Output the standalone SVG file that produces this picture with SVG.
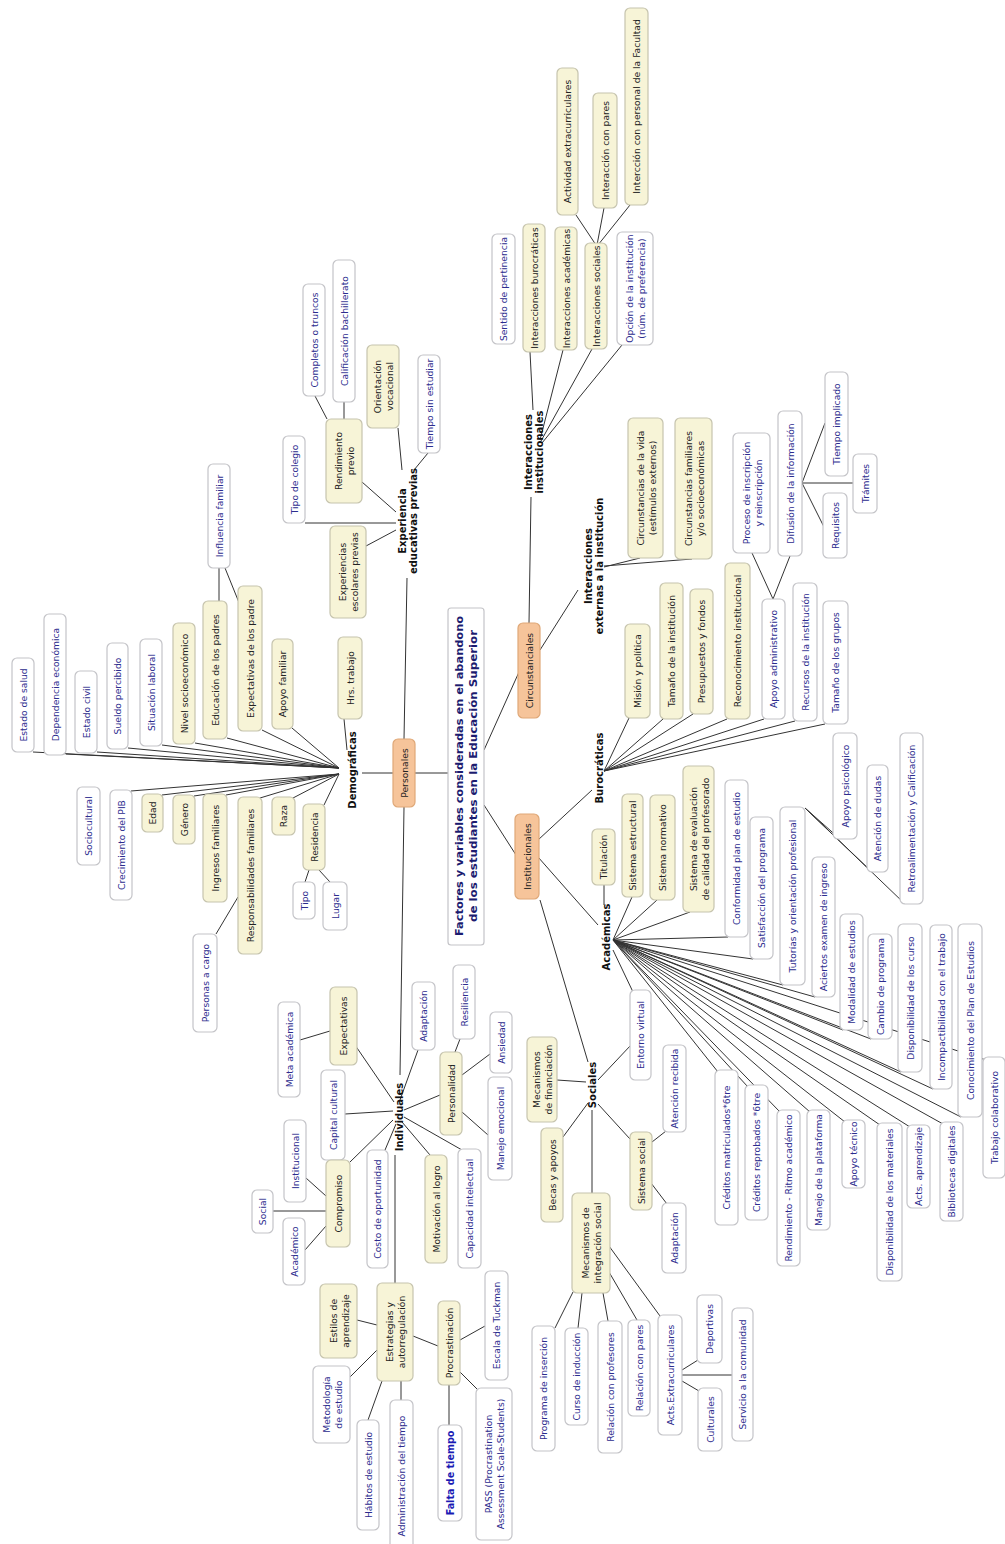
<svg xmlns="http://www.w3.org/2000/svg" width="1005" height="1544" viewBox="0 0 1005 1544">
<style>
.y{fill:#f7f4d7;stroke:#c6c4ae;stroke-width:1.2}
.w{fill:#ffffff;stroke:#c4c4c8;stroke-width:1.2}
.o{fill:#f6c49a;stroke:#dfa878;stroke-width:1.2}
text{font-family:"DejaVu Sans",Verdana,sans-serif;font-size:9.2px;text-anchor:middle;dominant-baseline:central}
.tk{fill:#222}
.tb{fill:#2c2c8e}
.lb{font-weight:bold;font-size:10px;fill:#111}
.ttl{font-weight:bold;font-size:11px;fill:#1c1c70}
.ft{font-weight:bold;font-size:9.6px;fill:#1a1ab4}
#edges line{stroke:#333;stroke-width:1}
</style>
<rect width="1005" height="1544" fill="#fff"/>
<g id="edges">
<line x1="315" y1="396" x2="327" y2="419"/>
<line x1="344" y1="402" x2="344" y2="419"/>
<line x1="362" y1="482" x2="396" y2="512"/>
<line x1="305" y1="523" x2="396" y2="523"/>
<line x1="366" y1="546" x2="396" y2="530"/>
<line x1="398" y1="428" x2="402" y2="470"/>
<line x1="428" y1="453" x2="414" y2="470"/>
<line x1="407" y1="578" x2="404" y2="739"/>
<line x1="393" y1="773" x2="362" y2="773"/>
<line x1="415" y1="773" x2="448" y2="773"/>
<line x1="404" y1="807" x2="400" y2="1075"/>
<line x1="344" y1="719" x2="347" y2="750"/>
<line x1="33" y1="752" x2="339" y2="768"/>
<line x1="66" y1="754" x2="339" y2="768"/>
<line x1="97" y1="752" x2="339" y2="768"/>
<line x1="128" y1="748" x2="339" y2="768"/>
<line x1="162" y1="745" x2="339" y2="768"/>
<line x1="195" y1="743" x2="339" y2="768"/>
<line x1="227" y1="738" x2="339" y2="768"/>
<line x1="262" y1="730" x2="339" y2="768"/>
<line x1="292" y1="728" x2="339" y2="768"/>
<line x1="131" y1="791" x2="339" y2="774"/>
<line x1="162" y1="795" x2="339" y2="774"/>
<line x1="194" y1="796" x2="339" y2="774"/>
<line x1="226" y1="795" x2="339" y2="774"/>
<line x1="260" y1="798" x2="339" y2="774"/>
<line x1="293" y1="798" x2="339" y2="774"/>
<line x1="324" y1="805" x2="339" y2="774"/>
<line x1="219" y1="568" x2="219" y2="601"/>
<line x1="225" y1="568" x2="240" y2="605"/>
<line x1="238" y1="897" x2="216" y2="934"/>
<line x1="309" y1="870" x2="305" y2="882"/>
<line x1="319" y1="870" x2="330" y2="882"/>
<line x1="300" y1="1040" x2="330" y2="1031"/>
<line x1="355" y1="1045" x2="394" y2="1102"/>
<line x1="418" y1="1050" x2="400" y2="1100"/>
<line x1="460" y1="1039" x2="455" y2="1052"/>
<line x1="440" y1="1095" x2="404" y2="1110"/>
<line x1="490" y1="1054" x2="462" y2="1075"/>
<line x1="462" y1="1112" x2="488" y2="1135"/>
<line x1="345" y1="1114" x2="393" y2="1111"/>
<line x1="306" y1="1178" x2="326" y2="1196"/>
<line x1="273" y1="1211" x2="326" y2="1211"/>
<line x1="305" y1="1250" x2="326" y2="1226"/>
<line x1="350" y1="1162" x2="393" y2="1120"/>
<line x1="385" y1="1150" x2="396" y2="1124"/>
<line x1="430" y1="1155" x2="402" y2="1122"/>
<line x1="462" y1="1150" x2="404" y2="1117"/>
<line x1="395" y1="1155" x2="395" y2="1283"/>
<line x1="357" y1="1320" x2="377" y2="1325"/>
<line x1="349" y1="1378" x2="377" y2="1350"/>
<line x1="368" y1="1420" x2="382" y2="1381"/>
<line x1="401" y1="1381" x2="401" y2="1400"/>
<line x1="413" y1="1336" x2="438" y2="1346"/>
<line x1="449" y1="1385" x2="449" y2="1425"/>
<line x1="460" y1="1340" x2="485" y2="1326"/>
<line x1="460" y1="1372" x2="477" y2="1389"/>
<line x1="484" y1="805" x2="516" y2="855"/>
<line x1="484" y1="750" x2="519" y2="672"/>
<line x1="529" y1="623" x2="531" y2="497"/>
<line x1="540" y1="650" x2="578" y2="590"/>
<line x1="530" y1="352" x2="533" y2="410"/>
<line x1="563" y1="350" x2="540" y2="440"/>
<line x1="592" y1="349" x2="541" y2="441"/>
<line x1="622" y1="345" x2="542" y2="443"/>
<line x1="576" y1="215" x2="596" y2="245"/>
<line x1="604" y1="208" x2="597" y2="245"/>
<line x1="630" y1="205" x2="598" y2="245"/>
<line x1="604" y1="567" x2="640" y2="558"/>
<line x1="604" y1="566" x2="692" y2="559"/>
<line x1="538" y1="840" x2="592" y2="790"/>
<line x1="604" y1="771" x2="629" y2="718"/>
<line x1="604" y1="771" x2="663" y2="719"/>
<line x1="604" y1="771" x2="693" y2="714"/>
<line x1="604" y1="771" x2="727" y2="719"/>
<line x1="604" y1="771" x2="764" y2="719"/>
<line x1="604" y1="771" x2="795" y2="721"/>
<line x1="604" y1="771" x2="825" y2="724"/>
<line x1="773" y1="599" x2="752" y2="553"/>
<line x1="773" y1="599" x2="790" y2="556"/>
<line x1="802" y1="483" x2="824" y2="527"/>
<line x1="802" y1="483" x2="853" y2="483"/>
<line x1="802" y1="483" x2="825" y2="423"/>
<line x1="538" y1="857" x2="598" y2="925"/>
<line x1="604" y1="885" x2="604" y2="905"/>
<line x1="613" y1="940" x2="632" y2="897"/>
<line x1="613" y1="940" x2="657" y2="900"/>
<line x1="613" y1="940" x2="690" y2="912"/>
<line x1="613" y1="940" x2="728" y2="937"/>
<line x1="613" y1="940" x2="753" y2="959"/>
<line x1="613" y1="940" x2="783" y2="985"/>
<line x1="613" y1="940" x2="815" y2="997"/>
<line x1="613" y1="940" x2="843" y2="1030"/>
<line x1="613" y1="940" x2="871" y2="1039"/>
<line x1="613" y1="940" x2="901" y2="1072"/>
<line x1="613" y1="940" x2="933" y2="1089"/>
<line x1="613" y1="940" x2="961" y2="1117"/>
<line x1="613" y1="940" x2="986" y2="1060"/>
<line x1="613" y1="940" x2="943" y2="1124"/>
<line x1="613" y1="940" x2="910" y2="1127"/>
<line x1="613" y1="940" x2="880" y2="1125"/>
<line x1="613" y1="940" x2="845" y2="1122"/>
<line x1="613" y1="940" x2="810" y2="1112"/>
<line x1="613" y1="940" x2="780" y2="1112"/>
<line x1="613" y1="940" x2="748" y2="1087"/>
<line x1="613" y1="940" x2="718" y2="1072"/>
<line x1="633" y1="992" x2="613" y2="950"/>
<line x1="631" y1="1045" x2="598" y2="1080"/>
<line x1="805" y1="808" x2="840" y2="839"/>
<line x1="805" y1="808" x2="872" y2="872"/>
<line x1="805" y1="808" x2="905" y2="904"/>
<line x1="540" y1="900" x2="588" y2="1062"/>
<line x1="557" y1="1080" x2="586" y2="1082"/>
<line x1="563" y1="1137" x2="588" y2="1103"/>
<line x1="592" y1="1110" x2="592" y2="1193"/>
<line x1="598" y1="1104" x2="630" y2="1139"/>
<line x1="652" y1="1142" x2="666" y2="1131"/>
<line x1="651" y1="1183" x2="667" y2="1204"/>
<line x1="555" y1="1328" x2="573" y2="1292"/>
<line x1="578" y1="1328" x2="582" y2="1293"/>
<line x1="608" y1="1321" x2="603" y2="1293"/>
<line x1="637" y1="1320" x2="609" y2="1272"/>
<line x1="660" y1="1316" x2="609" y2="1246"/>
<line x1="682" y1="1370" x2="698" y2="1360"/>
<line x1="682" y1="1375" x2="732" y2="1375"/>
<line x1="682" y1="1381" x2="699" y2="1391"/>
</g>

<g id="title"><rect class="w" x="448" y="608" width="36" height="337" rx="3"/>
<text class="ttl" transform="rotate(-90 459 776)" x="459" y="776" textLength="320" lengthAdjust="spacingAndGlyphs">Factores y variables consideradas en el abandono</text>
<text class="ttl" transform="rotate(-90 473 776)" x="473" y="776" textLength="292" lengthAdjust="spacingAndGlyphs">de los estudiantes en la Educación Superior</text></g>

<g id="personales"><rect class="o" x="393" y="739" width="22" height="68" rx="5"/><text class="tk" transform="rotate(-90 404 773)" x="404" y="773">Personales</text></g>
<g id="institucionales"><rect class="o" x="515" y="814" width="24" height="85" rx="5"/><text class="tk" transform="rotate(-90 527 856.5)" x="527" y="856.5">Institucionales</text></g>
<g id="circunstanciales"><rect class="o" x="518" y="623" width="22" height="95" rx="5"/><text class="tk" transform="rotate(-90 529 670.5)" x="529" y="670.5">Circunstanciales</text></g>

<g id="lbl-experiencia"><text class="lb" transform="rotate(-90 407 521)" x="407" y="521"><tspan x="407" dy="-5.5">Experiencia</tspan><tspan x="407" dy="11">educativas previas</tspan></text></g>
<g id="lbl-demograficas"><text class="lb" transform="rotate(-90 352 770)" x="352" y="770">Demográficas</text></g>
<g id="lbl-individuales"><text class="lb" transform="rotate(-90 399 1117)" x="399" y="1117">Individuales</text></g>
<g id="lbl-intinst"><text class="lb" transform="rotate(-90 533 452)" x="533" y="452"><tspan x="533" dy="-5.5">Interacciones</tspan><tspan x="533" dy="11">institucionales</tspan></text></g>
<g id="lbl-intext"><text class="lb" transform="rotate(-90 593 566)" x="593" y="566"><tspan x="593" dy="-5.5">Interacciones</tspan><tspan x="593" dy="11">externas a la institución</tspan></text></g>
<g id="lbl-burocraticas"><text class="lb" transform="rotate(-90 599 768)" x="599" y="768">Burocráticas</text></g>
<g id="lbl-academicas"><text class="lb" transform="rotate(-90 606 937)" x="606" y="937">Académicas</text></g>
<g id="lbl-sociales"><text class="lb" transform="rotate(-90 592 1085)" x="592" y="1085">Sociales</text></g>

<g id="completos"><rect class="w" x="303" y="284" width="22" height="112" rx="5"/><text class="tb" transform="rotate(-90 314 340)" x="314" y="340">Completos o truncos</text></g>
<g id="calificacion"><rect class="w" x="333" y="260" width="22" height="142" rx="5"/><text class="tb" transform="rotate(-90 344 331)" x="344" y="331">Calificación bachillerato</text></g>
<g id="rendimiento"><rect class="y" x="326" y="419" width="36" height="84" rx="5"/><text class="tk" transform="rotate(-90 344 461)" x="344" y="461"><tspan x="344" dy="-6">Rendimiento</tspan><tspan x="344" dy="12">previo</tspan></text></g>
<g id="orientacion"><rect class="y" x="367" y="345" width="32" height="83" rx="5"/><text class="tk" transform="rotate(-90 383 386.5)" x="383" y="386.5"><tspan x="383" dy="-6">Orientación</tspan><tspan x="383" dy="12">vocacional</tspan></text></g>
<g id="tiemposin"><rect class="w" x="418" y="355" width="22" height="98" rx="5"/><text class="tb" transform="rotate(-90 429 404)" x="429" y="404">Tiempo sin estudiar</text></g>
<g id="tipocolegio"><rect class="w" x="283" y="436" width="22" height="87" rx="5"/><text class="tb" transform="rotate(-90 294 479.5)" x="294" y="479.5">Tipo de colegio</text></g>
<g id="experiencias"><rect class="y" x="330" y="526" width="36" height="92" rx="5"/><text class="tk" transform="rotate(-90 348 572)" x="348" y="572"><tspan x="348" dy="-6">Experiencias</tspan><tspan x="348" dy="12">escolares previas</tspan></text></g>

<g id="hrstrabajo"><rect class="y" x="338" y="637" width="24" height="82" rx="5"/><text class="tk" transform="rotate(-90 350 678)" x="350" y="678">Hrs. trabajo</text></g>
<g id="estadosalud"><rect class="w" x="12" y="658" width="22" height="94" rx="5"/><text class="tb" transform="rotate(-90 23 705)" x="23" y="705">Estado de salud</text></g>
<g id="dependencia"><rect class="w" x="44" y="614" width="22" height="141" rx="5"/><text class="tb" transform="rotate(-90 55 684.5)" x="55" y="684.5">Dependencia económica</text></g>
<g id="estadocivil"><rect class="w" x="75" y="671" width="22" height="82" rx="5"/><text class="tb" transform="rotate(-90 86 712)" x="86" y="712">Estado civil</text></g>
<g id="sueldo"><rect class="w" x="107" y="643" width="21" height="106" rx="5"/><text class="tb" transform="rotate(-90 117.5 696)" x="117.5" y="696">Sueldo percibido</text></g>
<g id="situacion"><rect class="w" x="140" y="639" width="22" height="107" rx="5"/><text class="tb" transform="rotate(-90 151 692.5)" x="151" y="692.5">Situación laboral</text></g>
<g id="nivel"><rect class="y" x="173" y="623" width="22" height="121" rx="5"/><text class="tk" transform="rotate(-90 184 683.5)" x="184" y="683.5">Nivel socioeconómico</text></g>
<g id="educacion"><rect class="y" x="203" y="601" width="24" height="138" rx="5"/><text class="tk" transform="rotate(-90 215 670)" x="215" y="670">Educación de los padres</text></g>
<g id="expectpadre"><rect class="y" x="238" y="586" width="24" height="145" rx="5"/><text class="tk" transform="rotate(-90 250 658.5)" x="250" y="658.5">Expectativas de los padre</text></g>
<g id="influencia"><rect class="w" x="208" y="464" width="22" height="104" rx="5"/><text class="tb" transform="rotate(-90 219 516)" x="219" y="516">Influencia familiar</text></g>
<g id="apoyofamiliar"><rect class="y" x="272" y="639" width="21" height="90" rx="5"/><text class="tk" transform="rotate(-90 282.5 684)" x="282.5" y="684">Apoyo familiar</text></g>
<g id="sociocultural"><rect class="w" x="77" y="787" width="23" height="78" rx="5"/><text class="tb" transform="rotate(-90 88.5 826)" x="88.5" y="826">Sociocultural</text></g>
<g id="crecimiento"><rect class="w" x="110" y="790" width="22" height="110" rx="5"/><text class="tb" transform="rotate(-90 121 845)" x="121" y="845">Crecimiento del PIB</text></g>
<g id="edad"><rect class="y" x="142" y="794" width="21" height="38" rx="5"/><text class="tk" transform="rotate(-90 152.5 813)" x="152.5" y="813">Edad</text></g>
<g id="genero"><rect class="y" x="173" y="795" width="22" height="49" rx="5"/><text class="tk" transform="rotate(-90 184 819.5)" x="184" y="819.5">Género</text></g>
<g id="ingresos"><rect class="y" x="203" y="794" width="24" height="108" rx="5"/><text class="tk" transform="rotate(-90 215 848)" x="215" y="848">Ingresos familiares</text></g>
<g id="responsabilidades"><rect class="y" x="238" y="797" width="24" height="157" rx="5"/><text class="tk" transform="rotate(-90 250 875.5)" x="250" y="875.5">Responsabilidades familiares</text></g>
<g id="personas"><rect class="w" x="193" y="934" width="24" height="98" rx="5"/><text class="tb" transform="rotate(-90 205 983)" x="205" y="983">Personas a cargo</text></g>
<g id="raza"><rect class="y" x="272" y="797" width="23" height="38" rx="5"/><text class="tk" transform="rotate(-90 283.5 816)" x="283.5" y="816">Raza</text></g>
<g id="residencia"><rect class="y" x="303" y="804" width="22" height="66" rx="5"/><text class="tk" transform="rotate(-90 314 837)" x="314" y="837">Residencia</text></g>
<g id="tipo"><rect class="w" x="293" y="882" width="22" height="37" rx="5"/><text class="tb" transform="rotate(-90 304 900.5)" x="304" y="900.5">Tipo</text></g>
<g id="lugar"><rect class="w" x="323" y="882" width="24" height="48" rx="5"/><text class="tb" transform="rotate(-90 335 906)" x="335" y="906">Lugar</text></g>

<g id="metaacademica"><rect class="w" x="278" y="1002" width="22" height="95" rx="5"/><text class="tb" transform="rotate(-90 289 1049.5)" x="289" y="1049.5">Meta académica</text></g>
<g id="expectativas"><rect class="y" x="330" y="987" width="27" height="78" rx="5"/><text class="tk" transform="rotate(-90 343.5 1026)" x="343.5" y="1026">Expectativas</text></g>
<g id="adaptacion1"><rect class="w" x="412" y="982" width="23" height="68" rx="5"/><text class="tb" transform="rotate(-90 423.5 1016)" x="423.5" y="1016">Adaptación</text></g>
<g id="resiliencia"><rect class="w" x="453" y="965" width="22" height="74" rx="5"/><text class="tb" transform="rotate(-90 464 1002)" x="464" y="1002">Resiliencia</text></g>
<g id="personalidad"><rect class="y" x="440" y="1052" width="22" height="83" rx="5"/><text class="tk" transform="rotate(-90 451 1093.5)" x="451" y="1093.5">Personalidad</text></g>
<g id="ansiedad"><rect class="w" x="490" y="1012" width="22" height="61" rx="5"/><text class="tb" transform="rotate(-90 501 1042.5)" x="501" y="1042.5">Ansiedad</text></g>
<g id="manejoemocional"><rect class="w" x="488" y="1077" width="24" height="103" rx="5"/><text class="tb" transform="rotate(-90 500 1128.5)" x="500" y="1128.5">Manejo emocional</text></g>
<g id="capitalcultural"><rect class="w" x="321" y="1070" width="24" height="90" rx="5"/><text class="tb" transform="rotate(-90 333 1115)" x="333" y="1115">Capital cultural</text></g>
<g id="institucional"><rect class="w" x="284" y="1120" width="22" height="82" rx="5"/><text class="tb" transform="rotate(-90 295 1161)" x="295" y="1161">Institucional</text></g>
<g id="social"><rect class="w" x="252" y="1190" width="21" height="43" rx="5"/><text class="tb" transform="rotate(-90 262.5 1211.5)" x="262.5" y="1211.5">Social</text></g>
<g id="academico"><rect class="w" x="283" y="1218" width="22" height="67" rx="5"/><text class="tb" transform="rotate(-90 294 1251.5)" x="294" y="1251.5">Académico</text></g>
<g id="compromiso"><rect class="y" x="326" y="1160" width="24" height="87" rx="5"/><text class="tk" transform="rotate(-90 338 1203.5)" x="338" y="1203.5">Compromiso</text></g>
<g id="costo"><rect class="w" x="367" y="1150" width="21" height="118" rx="5"/><text class="tb" transform="rotate(-90 377.5 1209)" x="377.5" y="1209">Costo de oportunidad</text></g>
<g id="motivacion"><rect class="y" x="425" y="1155" width="22" height="108" rx="5"/><text class="tk" transform="rotate(-90 436 1209)" x="436" y="1209">Motivación al logro</text></g>
<g id="capacidad"><rect class="w" x="458" y="1149" width="23" height="119" rx="5"/><text class="tb" transform="rotate(-90 469.5 1208.5)" x="469.5" y="1208.5">Capacidad intelectual</text></g>
<g id="estrategias"><rect class="y" x="377" y="1283" width="36" height="98" rx="5"/><text class="tk" transform="rotate(-90 395 1332)" x="395" y="1332"><tspan x="395" dy="-6">Estrategias y</tspan><tspan x="395" dy="12">autorregulación</tspan></text></g>
<g id="estilos"><rect class="y" x="320" y="1284" width="37" height="74" rx="5"/><text class="tk" transform="rotate(-90 338.5 1321)" x="338.5" y="1321"><tspan x="338.5" dy="-6">Estilos de</tspan><tspan x="338.5" dy="12">aprendizaje</tspan></text></g>
<g id="metodologia"><rect class="w" x="313" y="1366" width="37" height="77" rx="5"/><text class="tb" transform="rotate(-90 331.5 1404.5)" x="331.5" y="1404.5"><tspan x="331.5" dy="-6">Metodología</tspan><tspan x="331.5" dy="12">de estudio</tspan></text></g>
<g id="habitos"><rect class="w" x="357" y="1420" width="22" height="110" rx="5"/><text class="tb" transform="rotate(-90 368 1475)" x="368" y="1475">Hábitos de estudio</text></g>
<g id="administracion"><rect class="w" x="390" y="1400" width="23" height="152" rx="5"/><text class="tb" transform="rotate(-90 401.5 1476)" x="401.5" y="1476">Administración del tiempo</text></g>
<g id="procrastinacion"><rect class="y" x="438" y="1301" width="22" height="84" rx="5"/><text class="tk" transform="rotate(-90 449 1343)" x="449" y="1343">Procrastinación</text></g>
<g id="falta"><rect class="w" x="438" y="1425" width="24" height="96" rx="5"/><text class="ft" transform="rotate(-90 450 1473)" x="450" y="1473">Falta de tiempo</text></g>
<g id="escala"><rect class="w" x="485" y="1271" width="23" height="109" rx="5"/><text class="tb" transform="rotate(-90 496.5 1325.5)" x="496.5" y="1325.5">Escala de Tuckman</text></g>
<g id="pass"><rect class="w" x="476" y="1388" width="36" height="152" rx="5"/><text class="tb" transform="rotate(-90 494 1464)" x="494" y="1464"><tspan x="494" dy="-6">PASS (Procrastination</tspan><tspan x="494" dy="12">Assessment Scale-Students)</tspan></text></g>

<g id="sentido"><rect class="w" x="492" y="234" width="23" height="110" rx="5"/><text class="tb" transform="rotate(-90 503.5 289)" x="503.5" y="289">Sentido de pertinencia</text></g>
<g id="intburocraticas"><rect class="y" x="523" y="224" width="22" height="128" rx="5"/><text class="tk" transform="rotate(-90 534 288)" x="534" y="288">Interacciones burocráticas</text></g>
<g id="intacademicas"><rect class="y" x="555" y="227" width="22" height="123" rx="5"/><text class="tk" transform="rotate(-90 566 288.5)" x="566" y="288.5">Interacciones académicas</text></g>
<g id="intsociales"><rect class="y" x="585" y="243" width="22" height="106" rx="5"/><text class="tk" transform="rotate(-90 596 296)" x="596" y="296">Interacciones sociales</text></g>
<g id="opcion"><rect class="w" x="617" y="232" width="36" height="113" rx="5"/><text class="tb" transform="rotate(-90 635 288.5)" x="635" y="288.5"><tspan x="635" dy="-6">Opción de la institución</tspan><tspan x="635" dy="12">(núm. de preferencia)</tspan></text></g>
<g id="actividad"><rect class="y" x="557" y="68" width="21" height="147" rx="5"/><text class="tk" transform="rotate(-90 567.5 141.5)" x="567.5" y="141.5">Actividad extracurriculares</text></g>
<g id="intpares"><rect class="y" x="593" y="93" width="24" height="115" rx="5"/><text class="tk" transform="rotate(-90 605 150.5)" x="605" y="150.5">Interacción con pares</text></g>
<g id="intpersonal"><rect class="y" x="625" y="8" width="23" height="197" rx="5"/><text class="tk" transform="rotate(-90 636.5 106.5)" x="636.5" y="106.5">Intercción con personal de la Facultad</text></g>

<g id="circvida"><rect class="y" x="628" y="418" width="35" height="140" rx="5"/><text class="tk" transform="rotate(-90 645.5 488)" x="645.5" y="488"><tspan x="645.5" dy="-6">Circunstancias de la vida</tspan><tspan x="645.5" dy="12">(estímulos externos)</tspan></text></g>
<g id="circfam"><rect class="y" x="675" y="418" width="37" height="141" rx="5"/><text class="tk" transform="rotate(-90 693.5 488.5)" x="693.5" y="488.5"><tspan x="693.5" dy="-6">Circunstancias familiares</tspan><tspan x="693.5" dy="12">y/o socioeconómicas</tspan></text></g>

<g id="mision"><rect class="y" x="625" y="624" width="25" height="94" rx="5"/><text class="tk" transform="rotate(-90 637.5 671)" x="637.5" y="671">Misión y política</text></g>
<g id="tamanoinst"><rect class="y" x="660" y="583" width="23" height="136" rx="5"/><text class="tk" transform="rotate(-90 671.5 651)" x="671.5" y="651">Tamaño de la institución</text></g>
<g id="presupuestos"><rect class="y" x="690" y="589" width="23" height="125" rx="5"/><text class="tk" transform="rotate(-90 701.5 651.5)" x="701.5" y="651.5">Presupuestos y fondos</text></g>
<g id="reconocimiento"><rect class="y" x="725" y="563" width="25" height="156" rx="5"/><text class="tk" transform="rotate(-90 737.5 641)" x="737.5" y="641">Reconocimiento institucional</text></g>
<g id="apoyoadmin"><rect class="w" x="762" y="599" width="23" height="120" rx="5"/><text class="tb" transform="rotate(-90 773.5 659)" x="773.5" y="659">Apoyo administrativo</text></g>
<g id="recursos"><rect class="w" x="793" y="583" width="24" height="138" rx="5"/><text class="tb" transform="rotate(-90 805 652)" x="805" y="652">Recursos de la institución</text></g>
<g id="tamanogrupos"><rect class="w" x="823" y="601" width="25" height="123" rx="5"/><text class="tb" transform="rotate(-90 835.5 662.5)" x="835.5" y="662.5">Tamaño de los grupos</text></g>
<g id="proceso"><rect class="w" x="733" y="433" width="37" height="120" rx="5"/><text class="tb" transform="rotate(-90 751.5 493)" x="751.5" y="493"><tspan x="751.5" dy="-6">Proceso de inscripción</tspan><tspan x="751.5" dy="12">y reinscripción</tspan></text></g>
<g id="difusion"><rect class="w" x="778" y="411" width="24" height="145" rx="5"/><text class="tb" transform="rotate(-90 790 483.5)" x="790" y="483.5">Difusión de la información</text></g>
<g id="requisitos"><rect class="w" x="823" y="493" width="24" height="65" rx="5"/><text class="tb" transform="rotate(-90 835 525.5)" x="835" y="525.5">Requisitos</text></g>
<g id="tramites"><rect class="w" x="853" y="454" width="24" height="59" rx="5"/><text class="tb" transform="rotate(-90 865 483.5)" x="865" y="483.5">Trámites</text></g>
<g id="tiempoimplicado"><rect class="w" x="825" y="372" width="23" height="104" rx="5"/><text class="tb" transform="rotate(-90 836.5 424)" x="836.5" y="424">Tiempo implicado</text></g>

<g id="titulacion"><rect class="y" x="592" y="829" width="23" height="56" rx="5"/><text class="tk" transform="rotate(-90 603.5 857)" x="603.5" y="857">Titulación</text></g>
<g id="sistestructural"><rect class="y" x="622" y="794" width="21" height="103" rx="5"/><text class="tk" transform="rotate(-90 632.5 845.5)" x="632.5" y="845.5">Sistema estructural</text></g>
<g id="sistnormativo"><rect class="y" x="650" y="795" width="25" height="105" rx="5"/><text class="tk" transform="rotate(-90 662.5 847.5)" x="662.5" y="847.5">Sistema normativo</text></g>
<g id="sistevaluacion"><rect class="y" x="683" y="766" width="31" height="146" rx="5"/><text class="tk" transform="rotate(-90 698.5 839)" x="698.5" y="839"><tspan x="698.5" dy="-6">Sistema de evaluación</tspan><tspan x="698.5" dy="12">de calidad del profesorado</tspan></text></g>
<g id="conformidad"><rect class="w" x="725" y="780" width="23" height="157" rx="5"/><text class="tb" transform="rotate(-90 736.5 858.5)" x="736.5" y="858.5">Conformidad plan de estudio</text></g>
<g id="satisfaccion"><rect class="w" x="750" y="817" width="23" height="142" rx="5"/><text class="tb" transform="rotate(-90 761.5 888)" x="761.5" y="888">Satisfacción del programa</text></g>
<g id="tutorias"><rect class="w" x="780" y="807" width="25" height="178" rx="5"/><text class="tb" transform="rotate(-90 792.5 896)" x="792.5" y="896">Tutorías y orientación profesional</text></g>
<g id="apoyopsico"><rect class="w" x="833" y="733" width="24" height="106" rx="5"/><text class="tb" transform="rotate(-90 845 786)" x="845" y="786">Apoyo psicológico</text></g>
<g id="atenciondudas"><rect class="w" x="867" y="765" width="21" height="107" rx="5"/><text class="tb" transform="rotate(-90 877.5 818.5)" x="877.5" y="818.5">Atención de dudas</text></g>
<g id="retro"><rect class="w" x="900" y="733" width="23" height="171" rx="5"/><text class="tb" transform="rotate(-90 911.5 818.5)" x="911.5" y="818.5">Retroalimentación y Calificación</text></g>
<g id="aciertos"><rect class="w" x="812" y="857" width="23" height="140" rx="5"/><text class="tb" transform="rotate(-90 823.5 927)" x="823.5" y="927">Aciertos examen de ingreso</text></g>
<g id="modalidad"><rect class="w" x="840" y="914" width="23" height="116" rx="5"/><text class="tb" transform="rotate(-90 851.5 972)" x="851.5" y="972">Modalidad de estudios</text></g>
<g id="cambio"><rect class="w" x="868" y="934" width="24" height="105" rx="5"/><text class="tb" transform="rotate(-90 880 986.5)" x="880" y="986.5">Cambio de programa</text></g>
<g id="dispcurso"><rect class="w" x="898" y="924" width="24" height="148" rx="5"/><text class="tb" transform="rotate(-90 910 998)" x="910" y="998">Disponibilidad de los curso</text></g>
<g id="incomp"><rect class="w" x="930" y="925" width="22" height="164" rx="5"/><text class="tb" transform="rotate(-90 941 1007)" x="941" y="1007">Incompactibilidad con el trabajo</text></g>
<g id="conocimiento"><rect class="w" x="958" y="924" width="24" height="193" rx="5"/><text class="tb" transform="rotate(-90 970 1020.5)" x="970" y="1020.5">Conocimiento del Plan de Estudios</text></g>
<g id="trabajocolab"><rect class="w" x="983" y="1057" width="22" height="121" rx="5"/><text class="tb" transform="rotate(-90 994 1117.5)" x="994" y="1117.5">Trabajo colaborativo</text></g>
<g id="bibliotecas"><rect class="w" x="940" y="1122" width="23" height="99" rx="5"/><text class="tb" transform="rotate(-90 951.5 1171.5)" x="951.5" y="1171.5">Bibliotecas digitales</text></g>
<g id="actsaprendizaje"><rect class="w" x="907" y="1125" width="23" height="83" rx="5"/><text class="tb" transform="rotate(-90 918.5 1166.5)" x="918.5" y="1166.5">Acts. aprendizaje</text></g>
<g id="dispmateriales"><rect class="w" x="877" y="1123" width="25" height="158" rx="5"/><text class="tb" transform="rotate(-90 889.5 1202)" x="889.5" y="1202">Disponibilidad de los materiales</text></g>
<g id="apoyotecnico"><rect class="w" x="842" y="1120" width="23" height="68" rx="5"/><text class="tb" transform="rotate(-90 853.5 1154)" x="853.5" y="1154">Apoyo técnico</text></g>
<g id="manejoplataforma"><rect class="w" x="807" y="1110" width="23" height="120" rx="5"/><text class="tb" transform="rotate(-90 818.5 1170)" x="818.5" y="1170">Manejo de la plataforma</text></g>
<g id="rendimientoritmo"><rect class="w" x="777" y="1110" width="23" height="156" rx="5"/><text class="tb" transform="rotate(-90 788.5 1188)" x="788.5" y="1188">Rendimiento - Ritmo académico</text></g>
<g id="creditosreprob"><rect class="w" x="745" y="1085" width="23" height="135" rx="5"/><text class="tb" transform="rotate(-90 756.5 1152.5)" x="756.5" y="1152.5">Créditos reprobados *6tre</text></g>
<g id="creditosmatric"><rect class="w" x="715" y="1070" width="23" height="155" rx="5"/><text class="tb" transform="rotate(-90 726.5 1147.5)" x="726.5" y="1147.5">Créditos matriculados*6tre</text></g>
<g id="entorno"><rect class="w" x="630" y="990" width="21" height="90" rx="5"/><text class="tb" transform="rotate(-90 640.5 1035)" x="640.5" y="1035">Entorno virtual</text></g>

<g id="mecfinanciacion"><rect class="y" x="527" y="1037" width="30" height="85" rx="5"/><text class="tk" transform="rotate(-90 542 1079.5)" x="542" y="1079.5"><tspan x="542" dy="-6">Mecanismos</tspan><tspan x="542" dy="12">de financiación</tspan></text></g>
<g id="becas"><rect class="y" x="541" y="1128" width="22" height="94" rx="5"/><text class="tk" transform="rotate(-90 552 1175)" x="552" y="1175">Becas y apoyos</text></g>
<g id="mecintegracion"><rect class="y" x="572" y="1193" width="38" height="100" rx="5"/><text class="tk" transform="rotate(-90 591 1243)" x="591" y="1243"><tspan x="591" dy="-6">Mecanismos de</tspan><tspan x="591" dy="12">integración social</tspan></text></g>
<g id="sistemasocial"><rect class="y" x="630" y="1132" width="22" height="78" rx="5"/><text class="tk" transform="rotate(-90 641 1171)" x="641" y="1171">Sistema social</text></g>
<g id="atencionrecibida"><rect class="w" x="663" y="1045" width="23" height="87" rx="5"/><text class="tb" transform="rotate(-90 674.5 1088.5)" x="674.5" y="1088.5">Atención recibida</text></g>
<g id="adaptacion2"><rect class="w" x="662" y="1203" width="24" height="70" rx="5"/><text class="tb" transform="rotate(-90 674 1238)" x="674" y="1238">Adaptación</text></g>
<g id="programainsercion"><rect class="w" x="532" y="1326" width="23" height="125" rx="5"/><text class="tb" transform="rotate(-90 543.5 1388.5)" x="543.5" y="1388.5">Programa de inserción</text></g>
<g id="cursoinduccion"><rect class="w" x="565" y="1328" width="23" height="97" rx="5"/><text class="tb" transform="rotate(-90 576.5 1376.5)" x="576.5" y="1376.5">Curso de inducción</text></g>
<g id="relprofesores"><rect class="w" x="598" y="1321" width="24" height="132" rx="5"/><text class="tb" transform="rotate(-90 610 1387)" x="610" y="1387">Relación con profesores</text></g>
<g id="relpares"><rect class="w" x="628" y="1320" width="22" height="96" rx="5"/><text class="tb" transform="rotate(-90 639 1368)" x="639" y="1368">Relación con pares</text></g>
<g id="actsextra"><rect class="w" x="658" y="1315" width="24" height="120" rx="5"/><text class="tb" transform="rotate(-90 670 1375)" x="670" y="1375">Acts.Extracurriculares</text></g>
<g id="deportivas"><rect class="w" x="697" y="1295" width="25" height="68" rx="5"/><text class="tb" transform="rotate(-90 709.5 1329)" x="709.5" y="1329">Deportivas</text></g>
<g id="culturales"><rect class="w" x="698" y="1388" width="24" height="63" rx="5"/><text class="tb" transform="rotate(-90 710 1419.5)" x="710" y="1419.5">Culturales</text></g>
<g id="servicio"><rect class="w" x="732" y="1308" width="21" height="133" rx="5"/><text class="tb" transform="rotate(-90 742.5 1374.5)" x="742.5" y="1374.5">Servicio a la comunidad</text></g>
</svg>
